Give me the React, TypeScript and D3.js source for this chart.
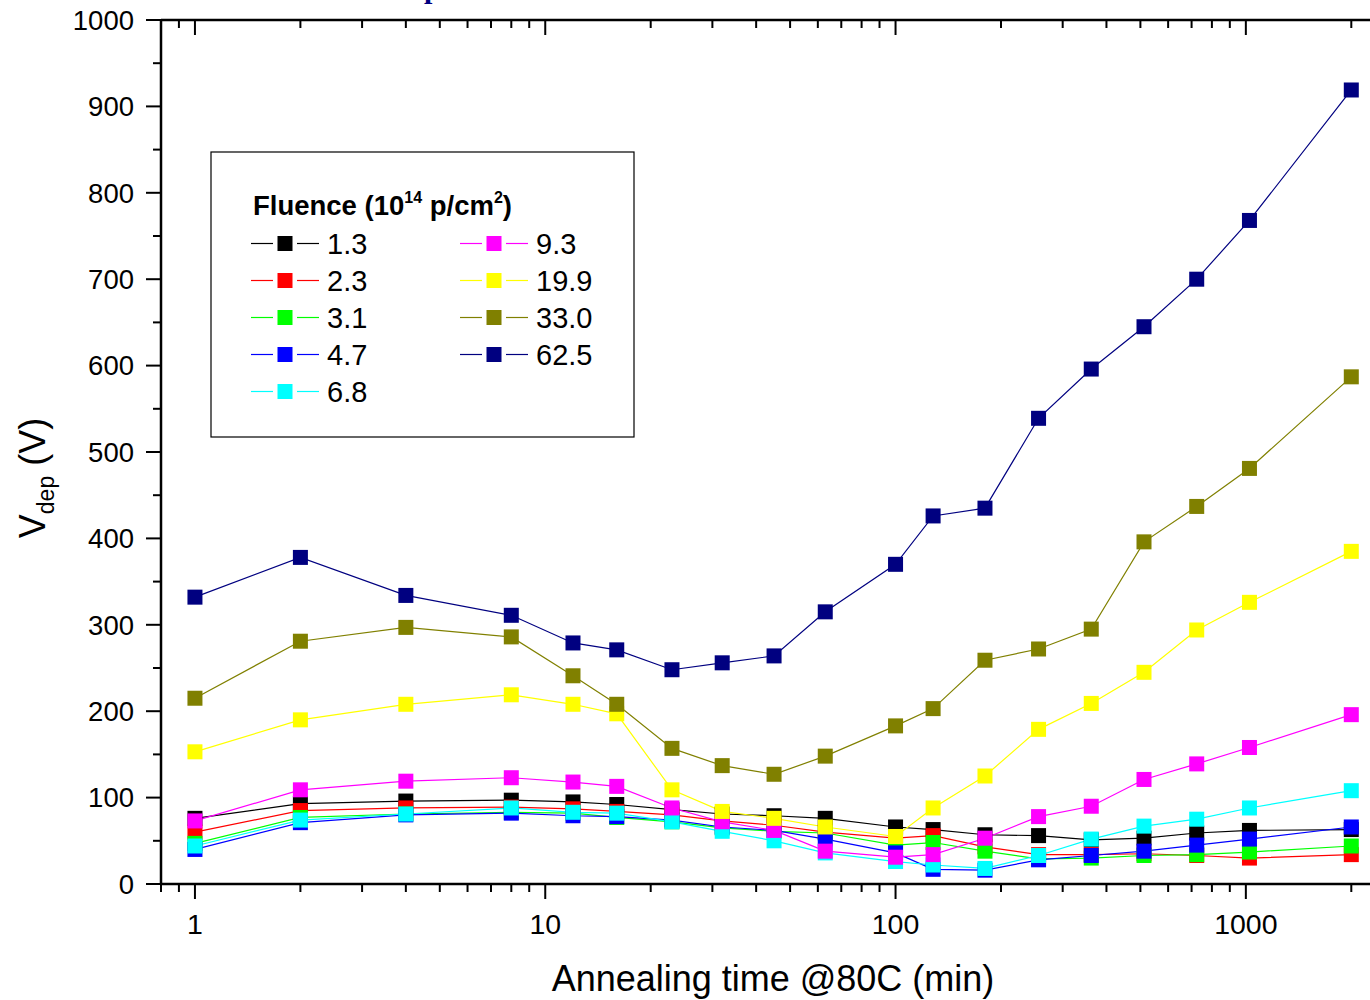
import React from "react";
import * as d3 from "d3";

const times = [1, 2, 4, 8, 12, 16, 23, 32, 45, 63, 100, 128, 180, 256, 362, 512, 724, 1024, 2000];

const fluences = ["1.3", "2.3", "3.1", "4.7", "6.8", "9.3", "19.9", "33.0", "62.5"];
const colors = ["#000000", "#ff0000", "#00ff00", "#0000ff", "#00ffff", "#ff00ff", "#ffff00", "#808000", "#000080"];

const v13 = [76, 93, 96, 97, 95, 92, 86, 81, 79, 76, 66, 63, 57, 56, 51, 53, 59, 62, 63];
const v23 = [60, 85, 88, 89, 87, 84, 80, 73, 68, 60, 53, 56, 43, 34, 34, 35, 33, 30, 34];
const v31 = [47, 77, 81, 83, 82, 77, 72, 65, 61, 59, 45, 48, 38, 29, 30, 33, 34, 37, 44];
const v47 = [40, 71, 80, 82, 79, 78, 74, 66, 62, 52, 36, 17, 16, 28, 33, 38, 45, 52, 66];
const v68 = [44, 74, 81, 88, 83, 82, 72, 61, 50, 36, 26, 22, 18, 33, 52, 67, 75, 88, 108];
const v93 = [73, 109, 119, 123, 118, 113, 88, 72, 62, 38, 31, 34, 53, 78, 90, 121, 139, 158, 196];
const v199 = [153, 190, 208, 219, 208, 197, 109, 84, 76, 66, 55, 88, 125, 179, 209, 245, 294, 326, 385];
const v330 = [215, 281, 297, 286, 241, 208, 157, 137, 127, 148, 183, 203, 259, 272, 295, 396, 437, 481, 587];
const v625 = [332, 378, 334, 311, 279, 271, 248, 256, 264, 315, 370, 426, 435, 539, 596, 645, 700, 768, 919];

const seriesValues = [v13, v23, v31, v47, v68, v93, v199, v330, v625];

const yTicks = [0, 100, 200, 300, 400, 500, 600, 700, 800, 900, 1000];
const xTickLabels = [1, 10, 100, 1000];

const W = 1370;
const H = 1000;
const left = 161;
const top = 20;
const bottom = 884;
const decade = 350.3;
const xDomain: [number, number] = [0.8, 3000];

export default function App() {
  const x = d3
    .scaleLog()
    .domain(xDomain)
    .range([left, left + decade * Math.log10(xDomain[1] / xDomain[0])]);
  const y = d3.scaleLinear().domain([0, 1000]).range([bottom, top]);
  const right = x.range()[1];

  const minorX: number[] = [];
  for (let e = -1; e <= 3; e++) {
    for (let m = 2; m <= 9; m++) {
      const v = m * Math.pow(10, e);
      if (v >= xDomain[0] - 1e-9 && v <= xDomain[1] + 1e-9) minorX.push(v);
    }
  }
  const minorY: number[] = d3.range(50, 1000, 100);

  const line = d3
    .line<number>()
    .x((_, i) => x(times[i]))
    .y((d) => y(d));

  const font = "Arial, 'Liberation Sans', Helvetica, sans-serif";
  const ms = 15;

  const legendRows = fluences.map((f, i) => {
    const col = i < 5 ? 0 : 1;
    const row = i < 5 ? i : i - 5;
    return { f, i, lx: col === 0 ? 251 : 460, ly: 243.5 + row * 37 };
  });

  return (
    <svg
      width={W}
      height={H}
      style={{ position: "absolute", left: 0, top: 0, display: "block", background: "#fff" }}
      fontFamily={font}
    >
      <rect x={0} y={0} width={W} height={H} fill="#fff" />
      <text x={424} y={-2} fontFamily="'Liberation Serif', serif" fontWeight="bold" fontSize={30} fill="#000080">
        p
      </text>

      {/* series */}
      <g>
        {seriesValues.map((vals, si) => (
          <path key={"l" + si} d={line(vals) || ""} fill="none" stroke={colors[si]} strokeWidth={1.2} />
        ))}
        {seriesValues.map((vals, si) =>
          vals.map((v, i) => (
            <rect
              key={"m" + si + "-" + i}
              x={x(times[i]) - ms / 2}
              y={y(v) - ms / 2}
              width={ms}
              height={ms}
              fill={colors[si]}
            />
          ))
        )}
      </g>

      {/* axes frame */}
      <line x1={left} x2={right} y1={bottom} y2={bottom} stroke="#000" strokeWidth={2.5} />
      <line x1={left} x2={right} y1={top} y2={top} stroke="#000" strokeWidth={2.5} />
      <line x1={left} x2={left} y1={top} y2={bottom} stroke="#000" strokeWidth={2.5} />

      {/* y ticks */}
      {yTicks.map((t) => (
        <g key={"yt" + t}>
          <line x1={left - 15} x2={left} y1={y(t)} y2={y(t)} stroke="#000" strokeWidth={2} />
          <text x={134} y={y(t) + 9.8} textAnchor="end" fontSize={27.5} fill="#000">
            {t}
          </text>
        </g>
      ))}
      {minorY.map((t) => (
        <line key={"ym" + t} x1={left - 8} x2={left} y1={y(t)} y2={y(t)} stroke="#000" strokeWidth={2} />
      ))}

      {/* x ticks bottom (outward) and top (inward) */}
      {xTickLabels.map((t) => (
        <g key={"xt" + t}>
          <line x1={x(t)} x2={x(t)} y1={bottom} y2={bottom + 15} stroke="#000" strokeWidth={2} />
          <line x1={x(t)} x2={x(t)} y1={top} y2={top + 15} stroke="#000" strokeWidth={2} />
          <text x={x(t)} y={934} textAnchor="middle" fontSize={28.5} fill="#000">
            {t}
          </text>
        </g>
      ))}
      {minorX.map((t, i) => (
        <g key={"xm" + i}>
          <line x1={x(t)} x2={x(t)} y1={bottom} y2={bottom + 8} stroke="#000" strokeWidth={2} />
          <line x1={x(t)} x2={x(t)} y1={top} y2={top + 8} stroke="#000" strokeWidth={2} />
        </g>
      ))}

      {/* axis titles */}
      <text x={773} y={991} textAnchor="middle" fontSize={36} fill="#000">
        Annealing time @80C (min)
      </text>
      <text transform="translate(45,478) rotate(-90)" textAnchor="middle" fontSize={36} fill="#000">
        V<tspan fontSize={23} dy={9}>dep</tspan>
        <tspan dy={-9}> (V)</tspan>
      </text>

      {/* legend */}
      <rect x={211} y={152} width={423} height={285} fill="#fff" stroke="#000" strokeWidth={1.2} />
      <text x={253} y={215} fontSize={27.5} fontWeight="bold" fill="#000">
        Fluence (10<tspan fontSize={16} dy={-12}>14</tspan>
        <tspan dy={12}> p/cm</tspan>
        <tspan fontSize={16} dy={-12}>2</tspan>
        <tspan dy={12}>)</tspan>
      </text>
      {legendRows.map((r) => (
        <g key={"lg" + r.i}>
          <line x1={r.lx} x2={r.lx + 22} y1={r.ly} y2={r.ly} stroke={colors[r.i]} strokeWidth={1.2} />
          <line x1={r.lx + 46} x2={r.lx + 68} y1={r.ly} y2={r.ly} stroke={colors[r.i]} strokeWidth={1.2} />
          <rect x={r.lx + 34 - 7.5} y={r.ly - 7.5} width={15} height={15} fill={colors[r.i]} />
          <text x={r.lx + 76} y={r.ly + 10.5} fontSize={29} fill="#000">
            {r.f}
          </text>
        </g>
      ))}
    </svg>
  );
}
